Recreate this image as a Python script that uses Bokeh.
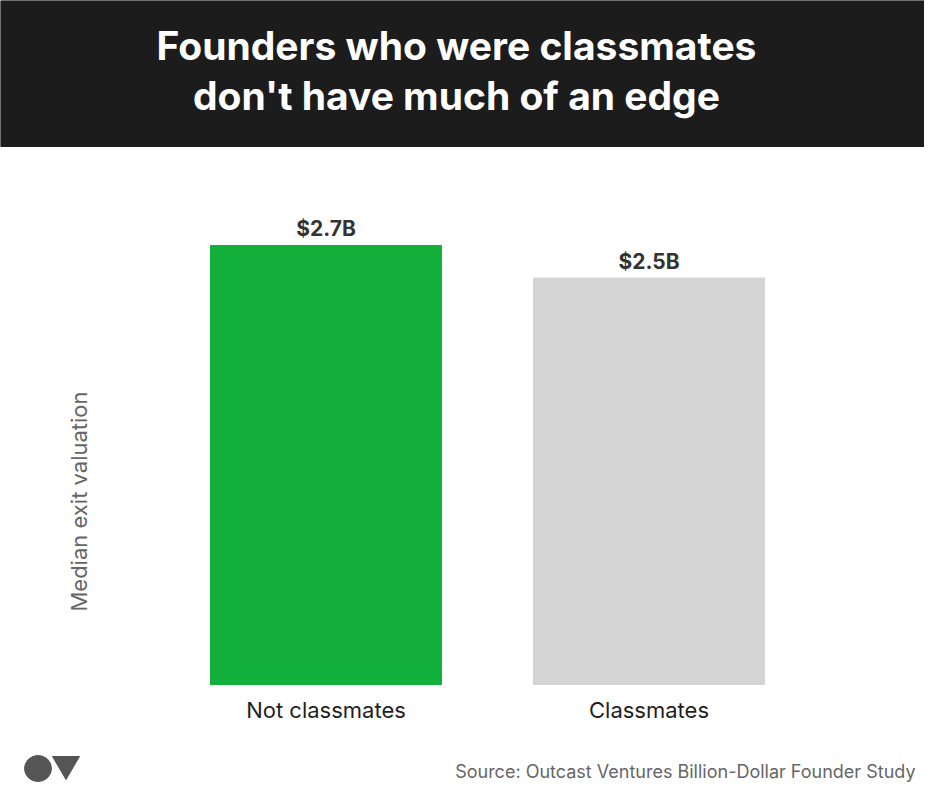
import math
from bokeh.plotting import figure
from bokeh.models import Range1d, ColumnDataSource
from bokeh.core.properties import value
from bokeh.embed import file_html
from bokeh.resources import INLINE

# ---- data ----
categories = ["Not classmates", "Classmates"]
positions = [0, 1]
valuations = [2.7, 2.5]          # median exit valuation, $B
value_labels = ["$2.7B", "$2.5B"]
bar_colors = ["#12b03a", "#d4d4d4"]
title_lines = ["Founders who were classmates", "don't have much of an edge"]
y_label = "Median exit valuation"
source_text = "Source: Outcast Ventures Billion-Dollar Founder Study"

FONT = "Inter"
W, H = 924, 790

# data scale: one category step = 323 px, 1 $B = 162.6 px, zero line at 684 px from top
x_start = -325.5 / 323.0
x_end = x_start + W / 323.0
y_start = -(H - 684) / 162.6
y_end = y_start + H / 162.6

p = figure(width=W, height=H, x_range=Range1d(x_start, x_end), y_range=Range1d(y_start, y_end),
           output_backend="svg", toolbar_location=None, min_border=0)
# canvas-pixel ranges for the decorative layout (header, footer)
p.extra_x_ranges = {"px": Range1d(0, W)}
p.extra_y_ranges = {"px": Range1d(H, 0)}
p.axis.visible = False
p.grid.visible = False
p.outline_line_color = None
p.background_fill_color = "white"

# header
p.quad(left=[0], right=[W], top=[0], bottom=[146], color="#1c1c1c",
       x_range_name="px", y_range_name="px")
p.text(x=[456, 456], y=[45, 95], text=title_lines, text_align="center",
       text_baseline="middle", text_color="white", x_range_name="px", y_range_name="px",
       text_font=value(FONT), text_font_style="bold", text_font_size="39px")

# bars
src = ColumnDataSource(dict(x=positions, cat=categories, val=valuations,
                            lab=value_labels, col=bar_colors))
p.vbar(x="x", top="val", bottom=0, width=0.715, color="col", source=src)
p.text(x="x", y="val", text="lab", source=src, y_offset=-17, text_align="center",
       text_baseline="middle", text_color="#333333", text_font=value(FONT),
       text_font_style="bold", text_font_size="21px")
p.text(x="x", y=0, text="cat", source=src, y_offset=25, text_align="center",
       text_baseline="middle", text_color="#1f1f1f", text_font=value(FONT),
       text_font_size="22px")

# y axis title
p.text(x=[78], y=[501], text=[y_label], angle=math.pi / 2, text_align="center",
       text_baseline="middle", text_color="#666666", text_font=value(FONT),
       text_font_size="22px", x_range_name="px", y_range_name="px")

# footer: logo + source
p.ellipse(x=[37.5], y=[768], width=[27], height=[26], color="#555555",
          x_range_name="px", y_range_name="px")
p.patch(x=[52, 79, 65.5], y=[756, 756, 779], color="#555555",
        x_range_name="px", y_range_name="px")
p.text(x=[915], y=[771], text=[source_text], text_align="right", text_baseline="middle",
       text_color="#666666", text_font=value(FONT), text_font_size="18px",
       x_range_name="px", y_range_name="px")

open("out.html", "w").write(file_html(p, INLINE))
